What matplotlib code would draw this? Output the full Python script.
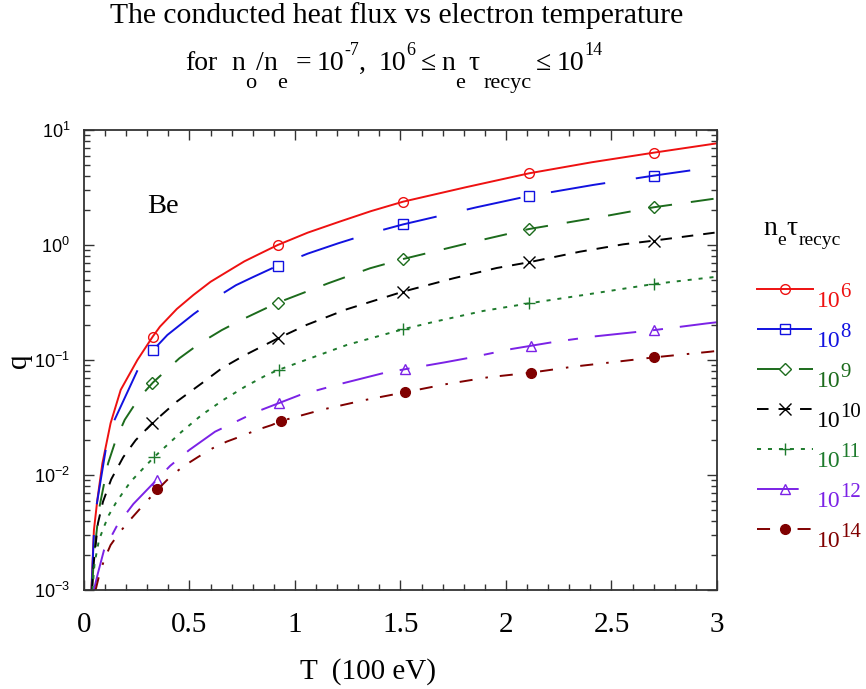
import matplotlib
matplotlib.use("Agg")
import matplotlib.pyplot as plt
from matplotlib.lines import Line2D
from matplotlib import transforms
from matplotlib.ticker import FixedLocator, MultipleLocator, NullFormatter

plt.rcParams.update({
    "font.family": ["Liberation Serif", "DejaVu Serif"],
    "mathtext.fontset": "custom",
    "mathtext.rm": "Liberation Serif",
    "mathtext.it": "Liberation Serif:italic",
    "mathtext.bf": "Liberation Serif:bold",
    "mathtext.sf": "Liberation Sans",
    "lines.scale_dashes": False,
})

# ---- data: conducted heat flux q vs electron temperature T (100 eV) ----
t_1e6 = [0.035, 0.047, 0.063, 0.087, 0.126, 0.174, 0.253, 0.326, 0.36, 0.44, 0.518, 0.60,
         0.676, 0.76, 0.834, 0.918, 1.06, 1.213, 1.36, 1.512, 1.81, 2.109, 2.406, 2.70, 3.0]
q_1e6 = [0.001, 0.00331, 0.00603, 0.0126, 0.0282, 0.055, 0.1, 0.160, 0.195, 0.278, 0.367,
         0.479, 0.582, 0.721, 0.841, 1.0, 1.28, 1.60, 1.97, 2.38, 3.18, 4.20, 5.24, 6.35, 7.66]

t_1e8 = [0.036, 0.047, 0.060, 0.103, 0.145, 0.261, 0.326, 0.395, 0.52, 0.645, 0.72, 0.80,
         0.918, 1.06, 1.205, 1.36, 1.512, 1.861, 2.109, 2.414, 2.70, 3.0]
q_1e8 = [0.001, 0.00316, 0.0055, 0.0166, 0.0302, 0.0871, 0.121, 0.165, 0.251, 0.367, 0.447,
         0.525, 0.661, 0.841, 1.035, 1.27, 1.51, 2.13, 2.67, 3.33, 4.01, 4.80]

t_1e9 = [0.038, 0.047, 0.071, 0.114, 0.150, 0.193, 0.261, 0.326, 0.452, 0.55, 0.653, 0.752,
         0.918, 1.158, 1.355, 1.512, 1.864, 2.109, 2.472, 2.70, 3.0]
q_1e9 = [0.001, 0.00195, 0.00501, 0.0126, 0.0200, 0.0302, 0.0468, 0.0635, 0.1035, 0.140,
         0.182, 0.226, 0.315, 0.465, 0.627, 0.755, 1.084, 1.377, 1.786, 2.128, 2.547]

t_1e10 = [0.038, 0.047, 0.066, 0.090, 0.129, 0.186, 0.245, 0.326, 0.439, 0.558, 0.653, 0.755,
          0.918, 1.055, 1.245, 1.512, 1.750, 1.956, 2.109, 2.351, 2.556, 2.70, 3.0]
q_1e10 = [0.001, 0.00178, 0.0038, 0.00586, 0.00918, 0.0143, 0.0201, 0.0285, 0.0434, 0.0627,
          0.0847, 0.1084, 0.154, 0.202, 0.276, 0.393, 0.513, 0.631, 0.708, 0.875, 1.014,
          1.091, 1.288]

t_1e11 = [0.040, 0.050, 0.071, 0.095, 0.118, 0.150, 0.182, 0.221, 0.292, 0.332, 0.463, 0.558,
          0.660, 0.763, 0.866, 0.92, 1.245, 1.512, 1.655, 1.892, 2.109, 2.366, 2.70, 3.0]
q_1e11 = [0.001, 0.0017, 0.00272, 0.00356, 0.00449, 0.00568, 0.00693, 0.00875, 0.0120, 0.0143,
          0.0238, 0.0333, 0.0449, 0.0586, 0.0741, 0.0818, 0.135, 0.185, 0.214, 0.267, 0.311,
          0.367, 0.458, 0.530]

t_1e12 = [0.047, 0.066, 0.095, 0.158, 0.234, 0.316, 0.408, 0.499, 0.621, 0.818, 1.024, 1.213,
          1.427, 1.711, 1.829, 2.027, 2.232, 2.414, 2.703, 2.951, 3.0]
q_1e12 = [0.001, 0.0014, 0.00223, 0.00367, 0.0056, 0.00802, 0.0120, 0.0165, 0.0238, 0.0355,
          0.0497, 0.0618, 0.0776, 0.0955, 0.1047, 0.1247, 0.144, 0.160, 0.182, 0.208, 0.213]

t_1e14 = [0.055, 0.071, 0.095, 0.126, 0.171, 0.221, 0.281, 0.347, 0.414, 0.474, 0.542, 0.610,
          0.676, 0.747, 0.818, 0.890, 0.934, 1.134, 1.332, 1.521, 1.719, 1.916, 2.118, 2.319,
          2.525, 2.701, 2.967, 3.0]
q_1e14 = [0.001, 0.00132, 0.00182, 0.00246, 0.00321, 0.00412, 0.00548, 0.00741, 0.00986,
          0.0120, 0.0144, 0.0171, 0.0195, 0.0218, 0.0246, 0.0272, 0.0295, 0.0372, 0.0449,
          0.0524, 0.0618, 0.0708, 0.0776, 0.0875, 0.0966, 0.1054, 0.118, 0.120]

# symbol positions on each curve
mt_1e6 = [0.326, 0.918, 1.512, 2.109, 2.70]
mq_1e6 = [0.160, 1.0, 2.38, 4.20, 6.35]
mt_1e8 = [0.326, 0.918, 1.512, 2.109, 2.70]
mq_1e8 = [0.121, 0.661, 1.51, 2.67, 4.01]
mt_1e9 = [0.324, 0.918, 1.512, 2.109, 2.70]
mq_1e9 = [0.0635, 0.315, 0.755, 1.377, 2.128]
mt_1e10 = [0.324, 0.918, 1.512, 2.109, 2.70]
mq_1e10 = [0.0285, 0.154, 0.393, 0.708, 1.091]
mt_1e11 = [0.332, 0.924, 1.512, 2.109, 2.70]
mq_1e11 = [0.0143, 0.0818, 0.185, 0.311, 0.458]
mt_1e12 = [0.344, 0.926, 1.521, 2.118, 2.703]
mq_1e12 = [0.00912, 0.0420, 0.0830, 0.132, 0.182]
mt_1e14 = [0.347, 0.934, 1.521, 2.118, 2.701]
mq_1e14 = [0.00755, 0.0295, 0.0524, 0.0776, 0.1054]

exponents = ["6", "8", "9", "10", "11", "12", "14"]
x_ticks = [0, 0.5, 1, 1.5, 2, 2.5, 3]
x_tick_labels = ["0", "0.5", "1", "1.5", "2", "2.5", "3"]
y_ticks = [1e-3, 1e-2, 1e-1, 1e0, 1e1]
y_tick_labels = [r"$\mathsf{10^{-3}}$", r"$\mathsf{10^{-2}}$", r"$\mathsf{10^{-1}}$",
                 r"$\mathsf{10^{0}}$", r"$\mathsf{10^{1}}$"]

curves = [(t_1e6, q_1e6, mt_1e6, mq_1e6), (t_1e8, q_1e8, mt_1e8, mq_1e8),
          (t_1e9, q_1e9, mt_1e9, mq_1e9), (t_1e10, q_1e10, mt_1e10, mq_1e10),
          (t_1e11, q_1e11, mt_1e11, mq_1e11), (t_1e12, q_1e12, mt_1e12, mq_1e12),
          (t_1e14, q_1e14, mt_1e14, mq_1e14)]

# line / symbol styles
styles = [
    dict(color="#ee1111", dashes=None, marker="o", ms=7.0, filled=False),
    dict(color="#1212e0", dashes=(39.6, 22.3), marker="s", ms=7.5, filled=False),
    dict(color="#1c6b1c", dashes=(16.5, 13.7), marker="D", ms=6.0, filled=False),
    dict(color="#000000", dashes=(8.3, 7.2), marker="x", ms=8.0, filled=False),
    dict(color="#1d7a2c", dashes=(2.9, 5.0), marker="+", ms=8.5, filled=False),
    dict(color="#7b22e6", dashes=(30, 12.2, 7.2, 12.2), marker="^", ms=7.5, filled=False),
    dict(color="#800000", dashes=(9.4, 9.4, 1.8, 8.6), marker="o", ms=7.0, filled=True),
]

W, H = 866, 689
fig = plt.figure(figsize=(W / 100, H / 100), dpi=100)
ax = fig.add_axes([84 / W, 1 - 590 / H, (717 - 84) / W, (590 - 130) / H])
renderer = fig.canvas.get_renderer()


def text_runs(x_px, y_px, runs, color="black", center=False):
    """Place a row of text pieces side by side; each run is
    (text, fontsize, baseline shift in px, gap before in px)."""
    widths = []
    for s, size, _, _ in runs:
        probe = fig.text(0, 0, s, fontsize=size)
        widths.append(probe.get_window_extent(renderer).width)
        probe.remove()
    total = sum(w + g for w, (_, _, _, g) in zip(widths, runs))
    x = x_px - total / 2 if center else x_px
    for w, (s, size, dy, gap) in zip(widths, runs):
        x += gap
        fig.text(x / W, 1 - (y_px - dy) / H, s, fontsize=size, color=color,
                 ha="left", va="baseline")
        x += w


LW = 1.4
for (t, q, mt, mq), st in zip(curves, styles):
    kw = dict(color=st["color"], lw=LW)
    if st["dashes"] is not None:
        kw["dashes"] = st["dashes"]
    ax.plot(t, q, **kw)
    ax.plot(mt, mq, ls="none", marker=st["marker"], ms=st["ms"], mew=1.0,
            mec=st["color"], mfc=st["color"] if st["filled"] else "none")

ax.set_yscale("log")
ax.set_xlim(0, 3)
ax.set_ylim(1e-3, 10)
ax.xaxis.set_major_locator(FixedLocator(x_ticks))
ax.set_xticklabels(x_tick_labels)
ax.xaxis.set_minor_locator(MultipleLocator(0.1))
ax.yaxis.set_major_locator(FixedLocator(y_ticks))
ax.set_yticklabels(y_tick_labels)
ax.yaxis.set_minor_locator(FixedLocator([m * 10.0 ** e for e in range(-3, 1) for m in range(2, 10)]))
ax.yaxis.set_minor_formatter(NullFormatter())

for s in ax.spines.values():
    s.set_linewidth(1.3)
    s.set_color("#333333")
ax.tick_params(which="both", direction="in", top=True, right=True, color="#333333", width=1.0)
ax.tick_params(which="major", length=7.2)
ax.tick_params(which="minor", length=4.0)
ax.tick_params(axis="x", which="major", labelsize=21, pad=16)
ax.tick_params(axis="y", which="major", labelsize=13, pad=10)

ax.text((147 - 84) / 633, (590 - 213) / 460, "Be", transform=ax.transAxes,
        fontsize=20.5, va="baseline", ha="left")

# titles and axis labels
fig.text(397 / W, 1 - 23.3 / H, "The conducted heat flux vs electron temperature",
         fontsize=21.3, ha="center", va="baseline")
SUB, SUP = -18, 15
text_runs(394, 70, [
    ("for", 20, 0, 0), ("n", 20, 0, 13), ("o", 16, SUB, 0), ("/", 20, 0, 0),
    ("n", 20, 0, 0), ("e", 16, SUB, 0), ("=", 20, 0, 8), ("10", 20, 0, 6),
    ("-7", 13, SUP, 0), (",", 20, 0, 0), ("10", 20, 0, 12), ("6", 13, SUP, 0),
    ("\u2264", 20, 0, 6), ("n", 20, 0, 5), ("e", 16, SUB, 0), ("\u03c4", 20, 0, 3),
    ("recyc", 16, SUB, 4), ("\u2264", 20, 0, 5), ("10", 20, 0, 5), ("14", 13, SUP, 0),
], center=True)
fig.text(300 / W, 1 - 679 / H, "T  (100 eV)", fontsize=21, ha="left", va="baseline")
fig.text(19 / W, 1 - 361 / H, "q", fontsize=21, rotation=90, ha="center", va="center")

# legend drawn beside the axes
text_runs(763, 235, [("n", 20, 0, 0), ("e", 14, -10, 0), ("\u03c4", 20, 0, 1),
                     ("recyc", 14, -10, 1)])
for i, (st, ex) in enumerate(zip(styles, exponents)):
    y = 289 + 40 * i
    fy = 1 - y / H
    kw = dict(color=st["color"], lw=LW, transform=fig.transFigure)
    if st["dashes"] is not None:
        kw["dashes"] = st["dashes"]
    fig.add_artist(Line2D([757 / W, 813 / W], [fy, fy], **kw))
    fig.add_artist(Line2D([785 / W], [fy], ls="none", marker=st["marker"], ms=st["ms"],
                          mew=1.0, mec=st["color"],
                          mfc=st["color"] if st["filled"] else "none",
                          transform=fig.transFigure))
    bx, by = 817 / W, 1 - (y + 17.7) / H
    fig.text(bx, by, "10", fontsize=17, color=st["color"], ha="left", va="baseline")
    off = transforms.offset_copy(fig.transFigure, fig=fig, x=17, y=7.2, units="points")
    fig.text(bx, by, ex, fontsize=15, color=st["color"], ha="left", va="baseline",
             transform=off)

fig.savefig("out.png", dpi=100, facecolor="white")
